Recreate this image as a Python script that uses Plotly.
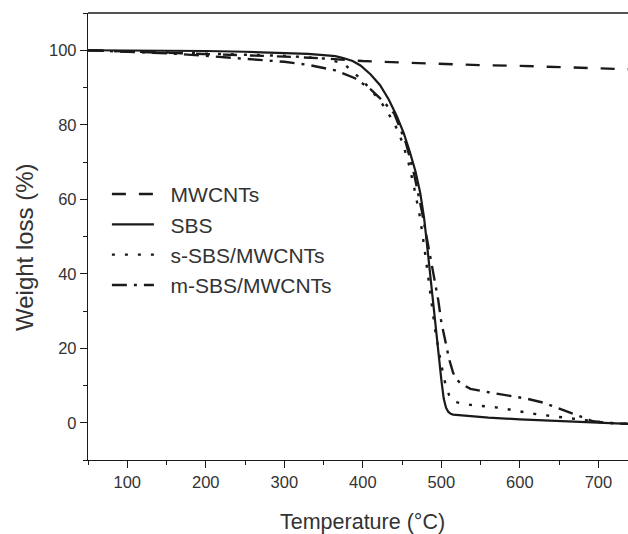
import plotly.graph_objects as go

# ---- data ----
mwcnt_T = [50, 100, 150, 200, 250, 300, 350, 400, 450, 500, 550, 600, 650, 700, 738]
mwcnt_W = [100.0, 99.7, 99.4, 99.0, 98.7, 98.3, 97.8, 97.1, 96.7, 96.3, 96.0, 95.8, 95.5, 95.2, 94.9]

sbs_T = [50, 100, 150, 200, 250, 300, 330, 350, 365, 375, 387, 397, 410, 422, 433, 443, 452,
         460, 467, 473, 478, 481, 486, 490, 494, 498, 500, 503, 506, 509, 512, 515, 530, 560,
         600, 650, 700, 738]
sbs_W = [100.0, 100.0, 99.9, 99.8, 99.6, 99.3, 99.0, 98.7, 98.4, 97.9, 97.1, 95.9, 93.5, 90.6,
         86.8, 82.4, 77.8, 72.6, 67.5, 61.8, 55.0, 49.3, 39.0, 31.0, 22.3, 15.0, 11.5, 6.5, 4.0,
         2.9, 2.4, 2.2, 1.9, 1.4, 0.9, 0.4, 0.0, -0.3]

ssbs_T = [50, 100, 150, 200, 250, 300, 350, 375, 397, 410, 425, 440, 450, 458, 465, 473,
          479, 485, 492, 500, 505, 510, 515, 525, 537, 575, 617, 660, 693, 710, 738]
ssbs_W = [100.0, 99.7, 99.4, 99.0, 98.8, 98.5, 97.8, 96.5, 92.4, 89.5, 85.5, 80.5, 75.5, 70.0,
          63.5, 55.0, 46.0, 36.0, 25.0, 15.5, 10.5, 7.3, 5.8, 5.2, 4.8, 4.0, 2.4, 1.3, 0.4, 0.0, -0.3]

msbs_T = [50, 100, 150, 200, 250, 300, 330, 365, 390, 410, 425, 440, 455, 465, 475, 483,
          490, 496, 500, 505, 510, 515, 520, 525, 537, 560, 588, 610, 630, 655, 677, 693, 710, 738]
msbs_W = [100.0, 99.6, 99.2, 98.5, 97.7, 96.9, 96.1, 94.6, 92.5, 89.5, 86.5, 83.0, 75.0, 67.0,
          57.0, 48.0, 40.0, 33.0, 27.0, 22.0, 17.0, 13.4, 11.5, 10.5, 9.1, 8.2, 7.3, 6.4, 5.4,
          3.5, 1.7, 0.4, 0.0, -0.3]

x_ticks = [100, 200, 300, 400, 500, 600, 700]
y_ticks = [0, 20, 40, 60, 80, 100]

INK = "#1a1a1a"
TXT = "#333333"
FONT = "Liberation Sans, Arial, sans-serif"
PAD = "\u00a0\u00a0"

fig = go.Figure()
fig.add_trace(go.Scatter(x=mwcnt_T, y=mwcnt_W, mode="lines", name=PAD + "MWCNTs",
                         line=dict(color=INK, width=2.4, dash="14px,13px")))
fig.add_trace(go.Scatter(x=sbs_T, y=sbs_W, mode="lines", name=PAD + "SBS",
                         line=dict(color=INK, width=2.2)))
fig.add_trace(go.Scatter(x=ssbs_T, y=ssbs_W, mode="lines", name=PAD + "s-SBS/MWCNTs",
                         line=dict(color=INK, width=2.4, dash="3px,10px")))
fig.add_trace(go.Scatter(x=msbs_T, y=msbs_W, mode="lines", name=PAD + "m-SBS/MWCNTs",
                         line=dict(color=INK, width=2.4, dash="15px,7px,3px,7px")))

fig.update_layout(
    width=628, height=534,
    margin=dict(l=88, r=0, t=13, b=74),
    paper_bgcolor="white", plot_bgcolor="white",
    font=dict(family=FONT, color=TXT, size=17),
    showlegend=True,
    legend=dict(x=0.035, y=0.64, xanchor="left", yanchor="top",
                bgcolor="rgba(0,0,0,0)", font=dict(size=21, color=TXT),
                itemwidth=42, tracegroupgap=0),
    shapes=[dict(type="line", xref="paper", yref="paper", x0=0, x1=1, y0=1, y1=1,
                 line=dict(color=INK, width=1.4))],
    annotations=[
        dict(text="Temperature (°C)", xref="paper", yref="paper", x=0.509, y=-0.139,
             xanchor="center", yanchor="middle", showarrow=False,
             font=dict(size=21.5, color=TXT)),
        dict(text="Weight loss (%)", xref="paper", yref="paper", x=-0.1185, y=0.4765,
             xanchor="center", yanchor="middle", showarrow=False, textangle=-90,
             font=dict(size=24, color=TXT)),
    ],
)
fig.update_xaxes(
    range=[50, 737.7], tickvals=x_ticks, ticks="outside", ticklen=7, tickwidth=1.2,
    tickcolor=INK, showline=True, linecolor=INK, linewidth=1.4, showgrid=False,
    zeroline=False, tickfont=dict(size=16.5, color=TXT), automargin=False,
    minor=dict(dtick=50, tick0=0, ticks="outside", ticklen=4, tickwidth=1.2, tickcolor=INK),
)
fig.update_yaxes(
    range=[-10, 110], tickvals=y_ticks, ticks="outside", ticklen=7, tickwidth=1.2,
    tickcolor=INK, showline=True, linecolor=INK, linewidth=1.4, showgrid=False,
    zeroline=False, tickfont=dict(size=16.5, color=TXT), automargin=False,
    minor=dict(dtick=10, tick0=0, ticks="outside", ticklen=4, tickwidth=1.2, tickcolor=INK),
)

fig.write_html(
    "out.html",
    config={"displayModeBar": False},
    post_script="document.body.style.margin='0';document.body.style.overflow='hidden';",
)
